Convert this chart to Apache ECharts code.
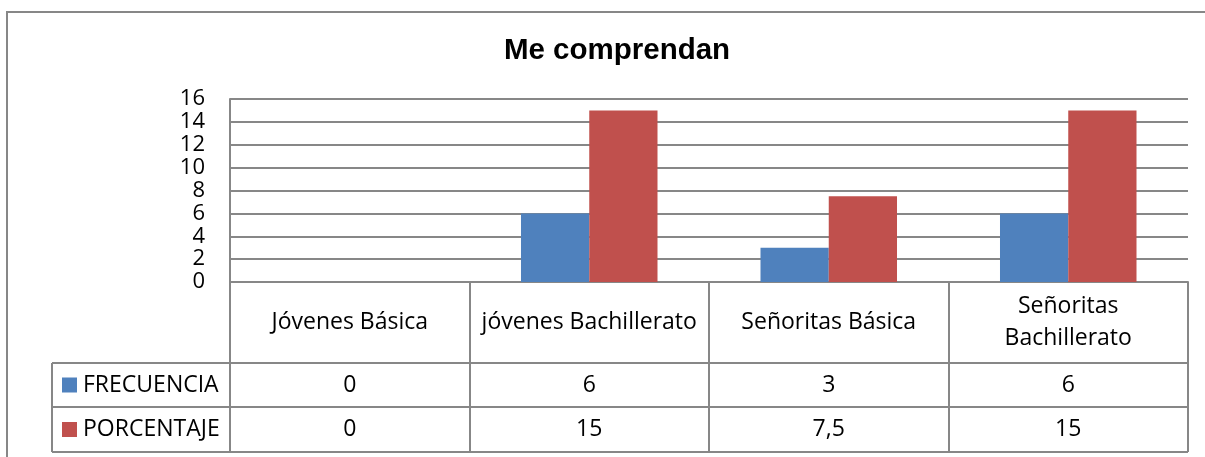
<!DOCTYPE html>
<html>
<head>
<meta charset="utf-8">
<script src="https://cdn.jsdelivr.net/npm/echarts@6/dist/echarts.min.js"></script>
<style>
  html, body { margin: 0; padding: 0; background: #fff; }
  #chart { width: 1205px; height: 457px; }
</style>
</head>
<body>
<div id="chart"></div>
<script>
// Data
const titleText = 'Me comprendan';
const categories = ['Jóvenes Básica', 'jóvenes Bachillerato', 'Señoritas Básica', 'Señoritas Bachillerato'];
const seriesNames = ['FRECUENCIA', 'PORCENTAJE'];
const frecuencia = [0, 6, 3, 6];
const porcentaje = [0, 15, 7.5, 15];
const yMin = 0, yMax = 16, yStep = 2;

const colors = ['#4F81BD', '#C0504D'];
const lineColor = '#878787';
const font = 'Open Sans';
const fontSize = 23;
const cellTextWidth = 225;

// Spanish decimal comma
const fmt = v => String(v).replace('.', ',');

// Wrap a header label at its last space when it is wider than the cell
const measureCtx = document.createElement('canvas').getContext('2d');
measureCtx.font = fontSize + 'px "' + font + '"';
function wrapLabel(text) {
  if (measureCtx.measureText(text).width <= cellTextWidth) return text;
  const i = text.lastIndexOf(' ');
  return i > 0 ? text.slice(0, i) + '\n' + text.slice(i + 1) : text;
}

const chart = echarts.init(document.getElementById('chart'), null, { renderer: 'canvas' });

const gridBox = { left: 230, right: 17, top: 99, bottom: 175 };
const tableBottom = 452;
const rowLines = [363, 407];
const legendLeft = 52;

const option = {
  animation: false,
  backgroundColor: '#fff',
  title: {
    text: titleText,
    left: 612,
    textAlign: 'center',
    top: 31,
    textStyle: { fontFamily: 'Liberation Sans', fontWeight: 'bold', fontSize: 29.5, color: '#000' }
  },
  grid: Object.assign({ containLabel: false }, gridBox),
  xAxis: {
    type: 'category',
    data: categories,
    boundaryGap: true,
    axisLine: { show: true, lineStyle: { color: lineColor, width: 2 } },
    axisTick: { show: true, length: tableBottom - (457 - gridBox.bottom), lineStyle: { color: lineColor, width: 2 } },
    axisLabel: {
      interval: 0,
      margin: 40,
      verticalAlign: 'middle',
      formatter: wrapLabel,
      lineHeight: 32,
      fontFamily: font,
      fontSize: fontSize,
      color: '#000'
    },
    splitLine: { show: false }
  },
  yAxis: {
    type: 'value',
    min: yMin,
    max: yMax,
    interval: yStep,
    axisLine: { show: true, lineStyle: { color: lineColor, width: 2 } },
    axisTick: { show: false },
    axisLabel: { margin: 25, fontFamily: font, fontSize: 22, color: '#000', lineHeight: 22 },
    splitLine: { show: true, lineStyle: { color: lineColor, width: 2 } }
  },
  series: [
    {
      name: seriesNames[0], type: 'bar', data: frecuencia,
      barGap: '0%', barCategoryGap: '43%',
      itemStyle: { color: colors[0] }
    },
    {
      name: seriesNames[1], type: 'bar', data: porcentaje,
      barGap: '0%', barCategoryGap: '43%',
      itemStyle: { color: colors[1] }
    }
  ]
};

chart.setOption(option);

// Data table under the axis, cells placed from the category scale
const plotRight = chart.convertToPixel({ xAxisIndex: 0 }, categories[categories.length - 1]) +
  (chart.convertToPixel({ xAxisIndex: 0 }, categories[1]) - chart.convertToPixel({ xAxisIndex: 0 }, categories[0])) / 2;
const rowsY = [rowLines[0], rowLines[1], tableBottom];
const rowData = [frecuencia, porcentaje];

const elements = [];
// outer chart frame
elements.push({
  type: 'rect', silent: true,
  shape: { x: 7, y: 12, width: 1215, height: 470 },
  style: { fill: 'none', stroke: lineColor, lineWidth: 2 }
});
// horizontal row borders
rowsY.forEach(y => {
  elements.push({
    type: 'line', silent: true,
    shape: { x1: legendLeft, y1: y, x2: plotRight, y2: y },
    style: { stroke: lineColor, lineWidth: 2 }
  });
});
// left border of the legend column
elements.push({
  type: 'line', silent: true,
  shape: { x1: legendLeft, y1: rowsY[0], x2: legendLeft, y2: tableBottom },
  style: { stroke: lineColor, lineWidth: 2 }
});
// rows: legend key, series name, values
rowData.forEach((vals, r) => {
  const yc = (rowsY[r] + rowsY[r + 1]) / 2;
  elements.push({
    type: 'rect', silent: true,
    shape: { x: 62, y: yc - 7.5, width: 15, height: 15 },
    style: { fill: colors[r] }
  });
  elements.push({
    type: 'text', silent: true,
    style: { text: seriesNames[r], x: 83, y: yc, align: 'left', verticalAlign: 'middle',
             font: fontSize + 'px "' + font + '"', fill: '#000' }
  });
  vals.forEach((v, i) => {
    elements.push({
      type: 'text', silent: true,
      style: { text: fmt(v), x: chart.convertToPixel({ xAxisIndex: 0 }, categories[i]), y: yc,
               align: 'center', verticalAlign: 'middle',
               font: fontSize + 'px "' + font + '"', fill: '#000' }
    });
  });
});

chart.setOption({ graphic: { elements: elements } });
</script>
</body>
</html>
